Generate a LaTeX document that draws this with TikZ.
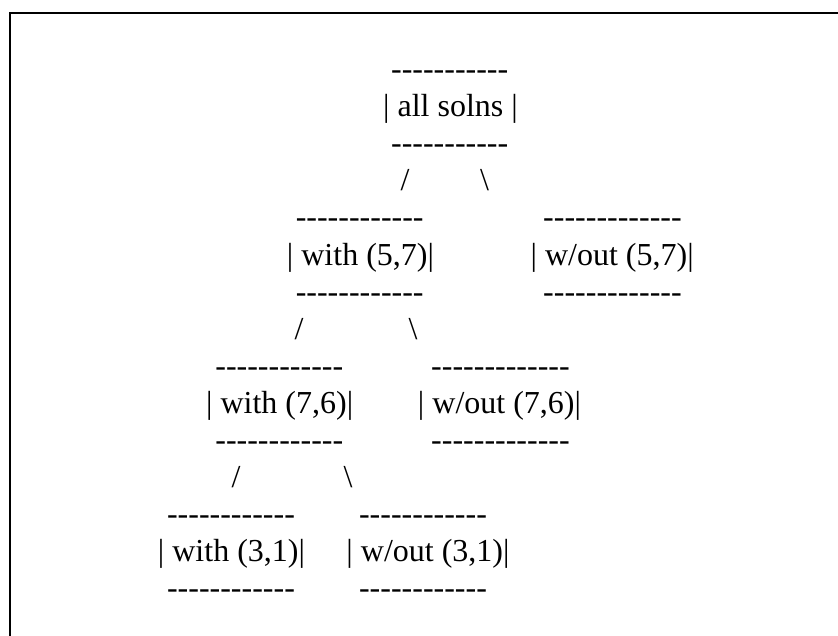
\documentclass[tikz,border=0pt]{standalone}
\usepackage{fontspec}
% keep runs of hyphens as separate hyphens
\setmainfont{Liberation Serif}[Ligatures=TeXOff]
\begin{document}
\begin{tikzpicture}[x=1pt,y=-1pt,
  txt/.style={font=\fontsize{32}{37}\selectfont, inner sep=0pt, outer sep=0pt, anchor=base},
  frame/.style={line width=2pt}]
\useasboundingbox (0,0) rectangle (838,635);
% open frame: top and left sides
\draw[frame] (10,640) -- (10,13) -- (845,13);
% baselines of the text lines
\def\ln#1{79.5+37.1*#1}
% root
\node[txt] (r0) at (449.7,{\ln{0}}) {-----------};
\node[txt] (r)  at (450.5,{\ln{1}}) {| all solns |};
\node[txt] (r2) at (449.7,{\ln{2}}) {-----------};
\node[txt] (rl) at (405,{\ln{3}}) {/};
\node[txt] (rr) at (484.5,{\ln{3}}) {\textbackslash};
% level 1
\node[txt] (a0) at (359.7,{\ln{4}}) {------------};
\node[txt] (a)  at (360.5,{\ln{5}}) {| with (5,7)|};
\node[txt] (a2) at (359.7,{\ln{6}}) {------------};
\node[txt] (b0) at (612.5,{\ln{4}}) {-------------};
\node[txt] (b)  at (612.2,{\ln{5}}) {| w/out (5,7)|};
\node[txt] (b2) at (612.5,{\ln{6}}) {-------------};
\node[txt] (al) at (299,{\ln{7}}) {/};
\node[txt] (ar) at (413,{\ln{7}}) {\textbackslash};
% level 2
\node[txt] (c0) at (279.3,{\ln{8}}) {------------};
\node[txt] (c)  at (279.7,{\ln{9}}) {| with (7,6)|};
\node[txt] (c2) at (279.3,{\ln{10}}) {------------};
\node[txt] (d0) at (500.5,{\ln{8}}) {-------------};
\node[txt] (d)  at (499.5,{\ln{9}}) {| w/out (7,6)|};
\node[txt] (d2) at (500.5,{\ln{10}}) {-------------};
\node[txt] (cl) at (236,{\ln{11}}) {/};
\node[txt] (cr) at (348,{\ln{11}}) {\textbackslash};
% level 3
\node[txt] (e0) at (231,{\ln{12}}) {------------};
\node[txt] (e)  at (231.5,{\ln{13}}) {| with (3,1)|};
\node[txt] (e2) at (231,{\ln{14}}) {------------};
\node[txt] (f0) at (423,{\ln{12}}) {------------};
\node[txt] (f)  at (428,{\ln{13}}) {| w/out (3,1)|};
\node[txt] (f2) at (423,{\ln{14}}) {------------};
\end{tikzpicture}
\end{document}
